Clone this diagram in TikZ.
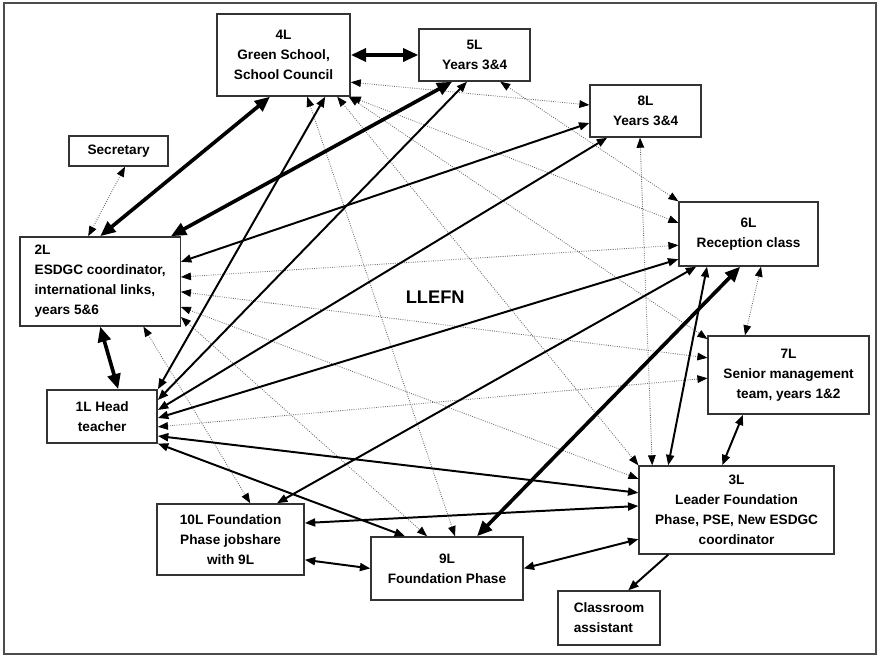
\documentclass[tikz,border=0pt]{standalone}
\usepackage{fontspec}
\setmainfont{Liberation Sans}
\usepackage{tikz}
\usetikzlibrary{arrows.meta}

\begin{document}
\begin{tikzpicture}[
	box/.style={draw=black!80, line width=1pt, align=center, font=\bfseries\fontsize{9.7}{14.2}\selectfont},
	heavy/.style={<->, line width=2.6pt, >={Triangle[length=0.38cm, width=0.32cm]}},
	link/.style={<->, line width=1.4pt, >={Triangle[length=0.26cm, width=0.2cm]}},
	faint/.style={<->, densely dotted, black!60, line width=0.6pt, >={Triangle[length=0.25cm, width=0.19cm, color=black]}}]
	\useasboundingbox (0,0) rectangle (21.95,-16.425);
	\draw[black!70, line width=1.2pt] (0.1,-0.08) rectangle (21.9,-16.35);
	
	\node[box, minimum width=3.325cm, minimum height=2.05cm] (l4) at (7.09,-1.375) {4L\\Green School,\\School Council};
	\node[box, right of=l4, xshift=3.775cm, minimum width=2.775cm, minimum height=1.3cm] (l5) {5L\\Years 3\&4};
	\node[box, right of=l5, xshift=3.275cm, yshift=-1.4cm, minimum width=2.775cm, minimum height=1.3cm] (l8) {8L\\Years 3\&4};
	\node[box, left of=l4, xshift=-3.125cm, yshift=-2.4cm, minimum width=2.475cm, minimum height=0.75cm] (sec) {Secretary};
	\node[box, below of=sec, xshift=-0.46cm, yshift=-2.26cm, minimum width=4cm, minimum height=2.225cm, align=left] (l2) {2L\\ESDGC coordinator,\\international links,\\years 5\&6};
	\node[box, below of=l2, xshift=0.05cm, yshift=-2.375cm, minimum width=2.75cm, minimum height=1.325cm] (l1) {1L Head\\teacher};
	\node[box, below of=l1, xshift=3.21cm, yshift=-2.075cm, minimum width=3.675cm, minimum height=1.775cm] (l10) {10L Foundation\\Phase jobshare\\with 9L};
	\node[box, right of=l10, xshift=4.41cm, yshift=-0.725cm, minimum width=3.8cm, minimum height=1.575cm] (l9) {9L\\Foundation Phase};
	\node[box, below of=l8, xshift=2.575cm, yshift=-2.075cm, minimum width=3.475cm, minimum height=1.6cm] (l6) {6L\\Reception class};
	\node[box, below of=l6, xshift=1cm, yshift=-2.525cm, minimum width=4.025cm, minimum height=1.95cm] (l7) {7L\\Senior management\\team, years 1\&2};
	\node[box, below of=l7, xshift=-1.3cm, yshift=-2.375cm, minimum width=4.875cm, minimum height=2.2cm] (l3) {3L\\Leader Foundation\\Phase, PSE, New ESDGC\\coordinator};
	\node[box, below of=l3, xshift=-3.19cm, yshift=-1.7cm, minimum width=2.55cm, minimum height=1.35cm, align=left] (assist) {Classroom\\assistant};
	\node[right of=l2, xshift=7.375cm, yshift=-0.39cm, font=\bfseries\fontsize{13}{15}\selectfont] (llefn) {LLEFN};
	
	% dotted links
	\draw[faint] ([xshift=0.16cm]sec.south) -- ([xshift=-0.3cm]l2.north);
	\draw[faint] ([yshift=-0.68cm]l4.east) -- ([yshift=0.15cm]l8.west);
	\draw[faint] (l4.south east) -- ([yshift=0.28cm]l6.west);
	\draw[faint] ([xshift=-0.05cm]l4.south east) -- ([yshift=0.9cm]l7.west);
	\draw[faint] ([xshift=1.34cm]l4.south) -- (l3.north west);
	\draw[faint] ([xshift=0.59cm]l4.south) -- ([xshift=0.2cm]l9.north);
	\draw[faint] ([xshift=0.64cm]l5.south) -- (l6.north west);
	\draw[faint] ([xshift=-0.14cm]l8.south) -- ([xshift=-2.11cm]l3.north);
	\draw[faint] ([yshift=0.11cm]l2.east) -- ([yshift=-0.28cm]l6.west);
	\draw[faint] ([yshift=-0.26cm]l2.east) -- ([yshift=0.43cm]l7.west);
	\draw[faint] ([yshift=-0.64cm]l2.east) -- ([yshift=0.78cm]l3.west);
	\draw[faint] ([yshift=-0.89cm]l2.east) -- ([xshift=-0.5cm]l9.north);
	\draw[faint] ([xshift=1.08cm]l2.south) -- ([xshift=0.49cm]l10.north);
	\draw[faint] ([yshift=-0.26cm]l1.east) -- ([yshift=-0.08cm]l7.west);
	\draw[faint] ([xshift=-1.09cm]l7.north) -- ([xshift=0.31cm]l6.south);
	
	% solid links
	\draw[link] ([yshift=0.49cm]l2.east) -- ([yshift=-0.3cm]l8.west);
	\draw[link] (l1.north east) -- ([xshift=1.04cm]l4.south);
	\draw[link] ([yshift=0.41cm]l1.east) -- ([xshift=-0.19cm]l5.south);
	\draw[link] ([yshift=0.16cm]l1.east) -- ([xshift=-0.96cm]l8.south);
	\draw[link] ([yshift=-0.04cm]l1.east) -- ([yshift=-0.63cm]l6.west);
	\draw[link] ([yshift=-0.49cm]l1.east) -- ([yshift=0.43cm]l3.west);
	\draw[link] (l1.south east) -- ([xshift=-1.05cm]l9.north);
	\draw[link] ([xshift=1.16cm]l10.north) -- ([xshift=-1.31cm]l6.south);
	\draw[link] ([xshift=-1.71cm]l3.north) -- ([xshift=-1.04cm]l6.south);
	\draw[link] ([yshift=0.41cm]l10.east) -- ([yshift=0.1cm]l3.west);
	\draw[link] ([yshift=-0.51cm]l10.east) -- (l9.west);
	\draw[link] (l9.east) -- ([yshift=-0.73cm]l3.west);
	\draw[link] ([xshift=-1.14cm]l7.south) -- ([xshift=-0.36cm]l3.north);
	\draw[link, -{Triangle[length=0.26cm, width=0.2cm]}] ([xshift=-1.71cm]l3.south) -- ([xshift=0.48cm]assist.north);
	
	% heavy links
	\draw[heavy] (l4.east) -- (l5.west);
	\draw[heavy] (l2.north) -- ([xshift=-0.34cm]l4.south);
	\draw[heavy] ([xshift=-0.25cm]l2.north east) -- ([xshift=-0.56cm]l5.south);
	\draw[heavy] (l2.south) -- ([xshift=0.4cm]l1.north);
	\draw[heavy] ([xshift=0.75cm]l9.north) -- ([xshift=-0.21cm]l6.south);
\end{tikzpicture}
\end{document}
